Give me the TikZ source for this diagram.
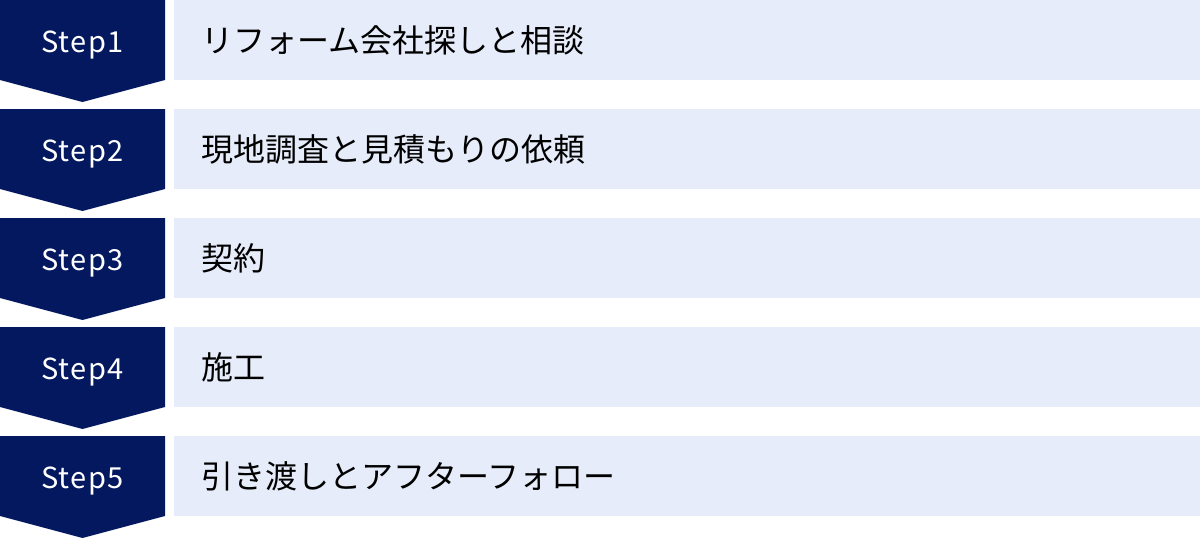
\documentclass[tikz,border=0pt]{standalone}
\usepackage{fontspec}
\setmainfont{Noto Sans CJK JP}
\newfontfamily\stepfont[LetterSpace=5]{Noto Sans CJK JP}
\definecolor{navy}{RGB}{4,24,96}
\definecolor{pale}{RGB}{230,236,249}
\tikzset{
  stepbox/.style={fill=navy},
  textbar/.style={fill=pale},
  steplabel/.style={anchor=base,text=white,inner sep=0pt,font=\stepfont\fontsize{29}{34}\selectfont},
  itemlabel/.style={anchor=base west,inner sep=0pt,font=\fontsize{32}{36}\selectfont}
}
\begin{document}
\begin{tikzpicture}[line cap=round,line join=round,x=1pt,y=-1pt]
\useasboundingbox (0,0) rectangle (1200,538);
% Step1
\fill[stepbox] (0,0) -- (165,0) -- (165,80) -- (82.5,102) -- (0,80) -- cycle;
\fill[textbar] (174,0) rectangle (1200,80);
\node[steplabel] (s1) at (82.5,52) {Step1};
\node[itemlabel] (t1) at (201,52) {リフォーム会社探しと相談};
% Step2
\fill[stepbox] (0,109) -- (165,109) -- (165,189) -- (82.5,211) -- (0,189) -- cycle;
\fill[textbar] (174,109) rectangle (1200,189);
\node[steplabel] (s2) at (82.5,161) {Step2};
\node[itemlabel] (t2) at (201,161) {現地調査と見積もりの依頼};
% Step3
\fill[stepbox] (0,218) -- (165,218) -- (165,298) -- (82.5,320) -- (0,298) -- cycle;
\fill[textbar] (174,218) rectangle (1200,298);
\node[steplabel] (s3) at (82.5,270) {Step3};
\node[itemlabel] (t3) at (201,270) {契約};
% Step4
\fill[stepbox] (0,327) -- (165,327) -- (165,407) -- (82.5,429) -- (0,407) -- cycle;
\fill[textbar] (174,327) rectangle (1200,407);
\node[steplabel] (s4) at (82.5,379) {Step4};
\node[itemlabel] (t4) at (201,379) {施工};
% Step5
\fill[stepbox] (0,436) -- (165,436) -- (165,516) -- (82.5,538) -- (0,516) -- cycle;
\fill[textbar] (174,436) rectangle (1200,516);
\node[steplabel] (s5) at (82.5,488) {Step5};
\node[itemlabel] (t5) at (201,488) {引き渡しとアフターフォロー};
\end{tikzpicture}
\end{document}
